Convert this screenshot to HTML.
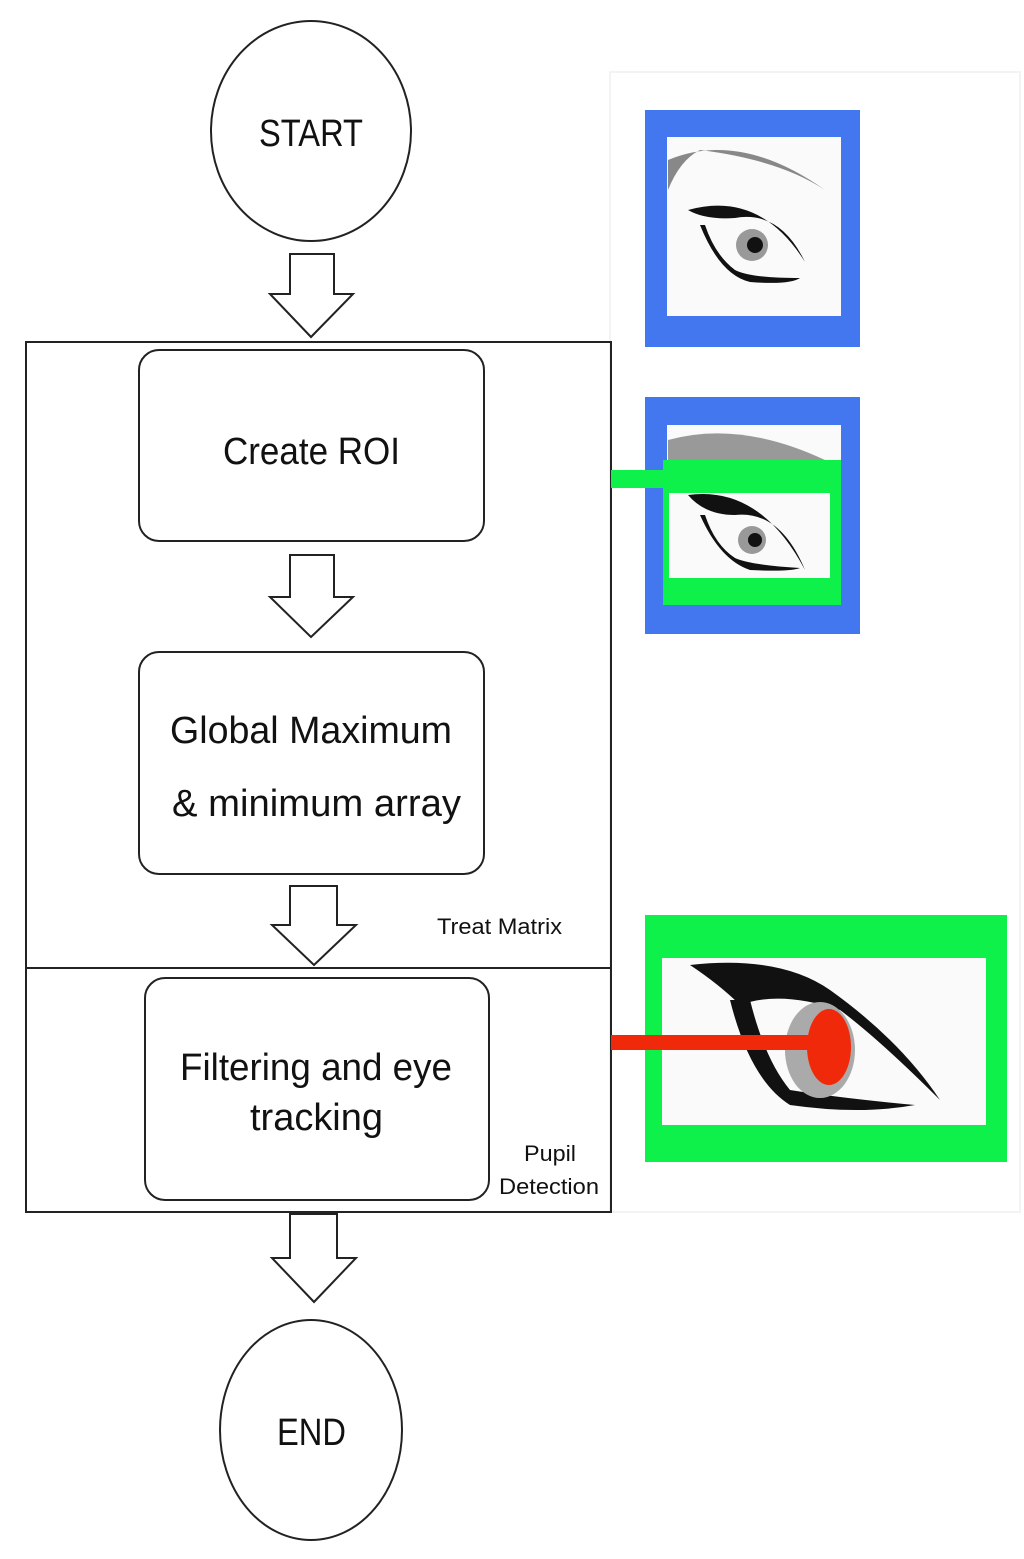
<!DOCTYPE html>
<html><head><meta charset="utf-8"><style>
html,body{margin:0;padding:0;background:#fff;}
svg{display:block;}
text{font-family:"Liberation Sans",sans-serif;fill:#111;}
</style></head><body>
<svg width="1024" height="1559" viewBox="0 0 1024 1559" xmlns="http://www.w3.org/2000/svg">
<rect x="610" y="72" width="410" height="1140" fill="none" stroke="#f3f3f3" stroke-width="2"/>
<!-- start -->
<ellipse cx="311" cy="131" rx="100" ry="110" fill="#fff" stroke="#222" stroke-width="2"/>
<text x="259" y="146" font-size="38" textLength="104" lengthAdjust="spacingAndGlyphs">START</text>
<!-- arrows -->
<g fill="#fff" stroke="#222" stroke-width="2">
<polygon points="290,254 334,254 334,294 353,294 311,337 270,294 290,294"/>
<polygon points="290,555 334,555 334,597 353,597 311,637 270,597 290,597"/>
<polygon points="290,886 337,886 337,925 356,925 314,965 272,925 290,925"/>
<polygon points="290,1214 337,1214 337,1258 356,1258 314,1302 272,1258 290,1258"/>
</g>
<!-- container -->
<rect x="26" y="342" width="585" height="870" fill="none" stroke="#222" stroke-width="2"/>
<line x1="26" y1="968" x2="611" y2="968" stroke="#222" stroke-width="2"/>
<rect x="139" y="350" width="345" height="191" rx="20" fill="#fff" stroke="#222" stroke-width="2"/>
<text x="223" y="464" font-size="38" textLength="177" lengthAdjust="spacingAndGlyphs">Create ROI</text>
<rect x="139" y="652" width="345" height="222" rx="20" fill="#fff" stroke="#222" stroke-width="2"/>
<text x="170" y="743" font-size="38" textLength="282" lengthAdjust="spacingAndGlyphs">Global Maximum</text>
<text x="172" y="816" font-size="38" textLength="289" lengthAdjust="spacingAndGlyphs">&amp; minimum array</text>
<text x="437" y="934" font-size="22" textLength="125" lengthAdjust="spacingAndGlyphs">Treat Matrix</text>
<rect x="145" y="978" width="344" height="222" rx="20" fill="#fff" stroke="#222" stroke-width="2"/>
<text x="180" y="1080" font-size="38" textLength="272" lengthAdjust="spacingAndGlyphs">Filtering and eye</text>
<text x="250" y="1130" font-size="38" textLength="133" lengthAdjust="spacingAndGlyphs">tracking</text>
<text x="524" y="1161" font-size="22" textLength="52" lengthAdjust="spacingAndGlyphs">Pupil</text>
<text x="499" y="1194" font-size="22" textLength="100" lengthAdjust="spacingAndGlyphs">Detection</text>
<!-- end -->
<ellipse cx="311" cy="1430" rx="91" ry="110" fill="#fff" stroke="#222" stroke-width="2"/>
<text x="277" y="1445" font-size="38" textLength="69" lengthAdjust="spacingAndGlyphs">END</text>

<!-- image 1 -->
<rect x="645" y="110" width="215" height="237" fill="#4277f0"/>
<rect x="667" y="137" width="174" height="179" fill="#fafafa"/>
<path d="M668,160 Q740,130 825,190 Q780,160 700,150 Q680,160 668,190Z" fill="#888"/>
<path d="M688,210 Q760,190 805,262 Q780,210 735,218 Q705,220 688,210Z" fill="#111"/>
<path d="M700,225 Q720,275 750,282 Q790,285 800,278 Q750,278 735,270 Q715,255 705,225Z" fill="#111"/>
<circle cx="752" cy="245" r="16" fill="#999"/><circle cx="755" cy="245" r="8" fill="#111"/>
<!-- image 2 -->
<rect x="645" y="397" width="215" height="237" fill="#4277f0"/>
<rect x="667" y="425" width="174" height="180" fill="#fafafa"/>
<path d="M668,440 Q740,420 825,460 L668,460Z" fill="#999"/>
<rect x="663" y="460" width="178" height="145" fill="#0ef04a"/>
<rect x="669" y="493" width="161" height="85" fill="#fafafa"/>
<path d="M688,495 Q760,485 805,570 Q780,510 735,515 Q705,515 688,495Z" fill="#111"/>
<path d="M700,515 Q720,560 750,570 Q790,572 800,568 Q750,565 735,558 Q715,545 705,515Z" fill="#111"/>
<circle cx="752" cy="540" r="14" fill="#999"/><circle cx="755" cy="540" r="7" fill="#111"/>
<rect x="611" y="470" width="54" height="18" fill="#0ef04a"/>
<!-- image 3 -->
<rect x="645" y="915" width="362" height="247" fill="#0ef04a"/>
<rect x="662" y="958" width="324" height="167" fill="#fafafa"/>
<path d="M690,965 Q780,955 830,990 Q900,1040 940,1100 Q880,1040 840,1010 Q780,990 740,1005 Q720,985 690,965Z" fill="#111"/>
<path d="M730,1000 Q750,1080 790,1105 Q860,1115 915,1105 Q840,1098 790,1090 Q765,1060 750,1000Z" fill="#111"/>
<ellipse cx="820" cy="1050" rx="35" ry="48" fill="#aaa"/>
<rect x="611" y="1035" width="220" height="15" fill="#f0290a"/>
<ellipse cx="829" cy="1047" rx="22" ry="38" fill="#f0290a"/>
</svg>
</body></html>
